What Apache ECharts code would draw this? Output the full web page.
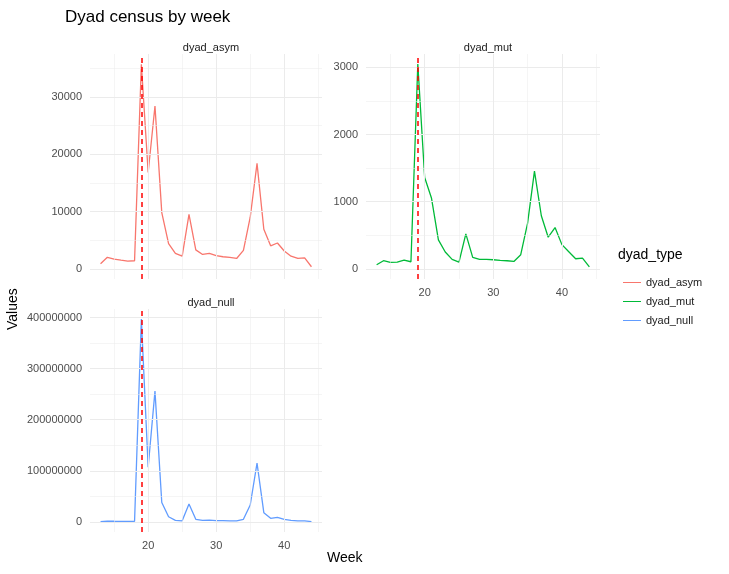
<!DOCTYPE html>
<html>
<head>
<meta charset="UTF-8">
<title>Dyad census by week</title>
<script src="https://cdn.jsdelivr.net/npm/echarts@6/dist/echarts.min.js"></script>
<style>html,body{margin:0;background:#fff}#main{width:729px;height:574px}</style>
</head>
<body>
<div id="main"></div>
<script>
var weeks = [13,14,15,16,17,18,19,20,21,22,23,24,25,26,27,28,29,30,31,32,33,34,35,36,37,38,39,40,41,42,43,44];
var dyadAsym = [870,2000,1700,1500,1350,1400,35700,16800,28400,9800,4400,2700,2200,9500,3300,2500,2700,2300,2100,2000,1800,3200,9000,18400,6900,4000,4500,3100,2200,1800,1900,350];
var dyadMut = [60,120,95,100,130,105,3050,1360,1050,430,250,140,100,520,170,140,140,135,125,120,110,210,680,1455,790,470,615,360,255,150,160,30];
var dyadNull = [500000,1500000,1200000,1000000,900000,1000000,397000000,107000000,256000000,38000000,10000000,3000000,2000000,35000000,5000000,3000000,3500000,2500000,2500000,2000000,2000000,5000000,33000000,115000000,18000000,7000000,9000000,5000000,3000000,2000000,2000000,500000];
var xMajor = [20,30,40];
var xMinor = [15,25,35,45];
var cutWeek = 19;

var gridCol = '#ebebeb';
function pairs(v){ return weeks.map(function(w,i){ return [w, v[i]]; }); }
function gridLines(yMajor, yMinor){
  var d = [];
  xMajor.forEach(function(x){ d.push({xAxis:x, lineStyle:{width:1}}); });
  xMinor.forEach(function(x){ d.push({xAxis:x, lineStyle:{width:0.5}}); });
  yMajor.forEach(function(y){ d.push({yAxis:y, lineStyle:{width:1}}); });
  yMinor.forEach(function(y){ d.push({yAxis:y, lineStyle:{width:0.5}}); });
  return d;
}
var panels = [
  {name:'dyad_asym', data:dyadAsym, color:'#f8766d', min:-1785, max:37485, major:[0,10000,20000,30000], minor:[5000,15000,25000,35000], grid:{left:90,top:54,width:232,height:225}, showX:false},
  {name:'dyad_mut', data:dyadMut, color:'#00ba38', min:-152, max:3200, major:[0,1000,2000,3000], minor:[500,1500,2500], grid:{left:366,top:54,width:234,height:225}, showX:true},
  {name:'dyad_null', data:dyadNull, color:'#619cff', min:-19850000, max:416850000, major:[0,100000000,200000000,300000000,400000000], minor:[50000000,150000000,250000000,350000000], grid:{left:90,top:309,width:232,height:223}, showX:true}
];

var grids = [], xAxes = [], yAxes = [], series = [], titles = [];
panels.forEach(function(p, i){
  grids.push(p.grid);
  xAxes.push({type:'value', gridIndex:i, min:11.45, max:45.55,
    axisLine:{show:false}, axisTick:{show:false}, splitLine:{show:false},
    axisLabel:{show:p.showX, customValues:xMajor, color:'#4d4d4d', fontSize:11, margin:8}});
  yAxes.push({type:'value', gridIndex:i, min:p.min, max:p.max,
    axisLine:{show:false}, axisTick:{show:false}, splitLine:{show:false},
    axisLabel:{customValues:p.major, color:'#4d4d4d', fontSize:11, margin:8,
      formatter:function(v){ return String(Math.round(v)); }}});
  series.push({type:'line', xAxisIndex:i, yAxisIndex:i, data:[], silent:true,
    markLine:{silent:true, symbol:'none', label:{show:false}, animation:false,
      lineStyle:{color:gridCol, type:'solid'}, data:gridLines(p.major, p.minor)}});
  series.push({name:p.name, type:'line', xAxisIndex:i, yAxisIndex:i, data:pairs(p.data),
    color:p.color, showSymbol:false, lineStyle:{color:p.color, width:1.3}, itemStyle:{color:p.color}, z:3,
    markLine:{silent:true, symbol:'none', label:{show:false}, animation:false,
      lineStyle:{color:'#ff0000', type:[5,4], width:1.5}, data:[{xAxis:cutWeek}]}});
  titles.push({text:p.name, left:p.grid.left + p.grid.width/2, top:p.grid.top - 17, textAlign:'center',
    textStyle:{fontSize:11, fontWeight:'normal', color:'#1a1a1a', fontFamily:'Liberation Sans'}});
});
titles.push({text:'Dyad census by week', left:60, top:4,
  textStyle:{fontSize:17, fontWeight:'normal', color:'#000', fontFamily:'Liberation Sans'}});

var myChart = echarts.init(document.getElementById('main'));
var option = {
  animation:false,
  textStyle:{fontFamily:'Liberation Sans'},
  title:titles,
  grid:grids, xAxis:xAxes, yAxis:yAxes, series:series,
  legend:{orient:'vertical', left:618, top:272, itemGap:8, itemWidth:18, itemHeight:12,
    icon:'path://M0,6L18,6L18,7L0,7Z',
    data:[{name:'dyad_asym', itemStyle:{color:'#f8766d'}},
          {name:'dyad_mut', itemStyle:{color:'#00ba38'}},
          {name:'dyad_null', itemStyle:{color:'#619cff'}}],
    textStyle:{fontSize:11, color:'#1a1a1a'}},
  graphic:[
    {type:'text', left:618, top:248, style:{text:'dyad_type', fontSize:14, fill:'#000', font:'14px Liberation Sans'}},
    {type:'text', left:327, top:551, style:{text:'Week', fill:'#000', font:'14px Liberation Sans'}},
    {type:'text', x:6, y:330, rotation:Math.PI/2, style:{text:'Values', fill:'#000', font:'14px Liberation Sans'}}
  ]
};
myChart.setOption(option);
</script>
</body>
</html>
